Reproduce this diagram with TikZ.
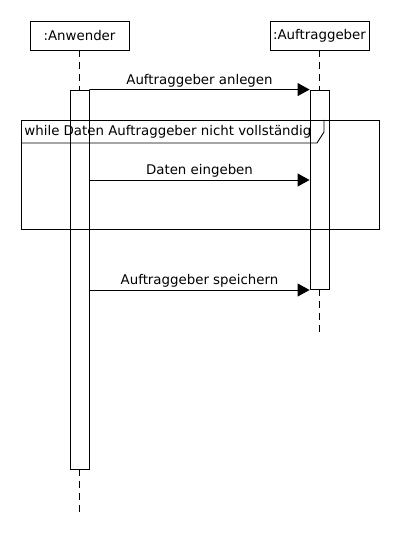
\documentclass[tikz,border=0pt]{standalone}
\usepackage{fontspec}
\setmainfont{DejaVu Sans}
\usetikzlibrary{positioning,calc}
\usetikzlibrary{arrows.meta}

\begin{document}
\begin{tikzpicture}[x=1bp, y=-1bp, line width=0.9bp,
	>={Triangle[length=12bp,width=13bp]},
	obj/.style={draw, minimum width=99bp, minimum height=29bp, inner sep=0pt, font=\fontsize{13.4}{15}\selectfont},
	act/.style={draw, minimum width=19bp, inner sep=0pt},
	life/.style={dash pattern=on 7bp off 5bp},
	msg/.style={->},
	lbl/.style={above, inner sep=2bp, font=\fontsize{13.4}{15}\selectfont}]
\useasboundingbox (0,0) rectangle (400,560);

% objects and lifelines
\node [obj] (anw) at (79.5,35.5) {:Anwender};
\node [obj] (auf) at (319.5,35.5) {:Auftraggeber};
\node [act, minimum height=379bp] (anwact) at (79.5,279.5) {};
\node [act, minimum height=199bp] (aufact) at (319.5,189.5) {};
\coordinate (anwend) at (79.5,517);
\coordinate (aufend) at (319.5,337);
\draw [life] (anw) -- (anwact);
\draw [life] (anwact) -- (anwend);
\draw [life] (auf) -- (aufact);
\draw [life] (aufact) -- (aufend);

% loop frame
\draw (21,120) rectangle (379,229);
\draw (21,143) -- (317,143) -- (324,132) -- (324,120);
\node [anchor=west, inner sep=0pt, font=\fontsize{13.4}{15}\selectfont] (loop) at (24,131.5) {while Daten Auftraggeber nicht vollständig};

% messages
\coordinate (m2) at (0,180);
\coordinate (m3) at (0,290);
\draw [msg] (anwact.north east) -- (aufact.north west) node [lbl, midway] {Auftraggeber anlegen};
\draw [msg] (anwact.east |- m2) -- (aufact.west |- m2) node [lbl, midway] {Daten eingeben};
\draw [msg] (anwact.east |- m3) -- (aufact.west |- m3) node [lbl, midway] {Auftraggeber speichern};

\end{tikzpicture}
\end{document}
